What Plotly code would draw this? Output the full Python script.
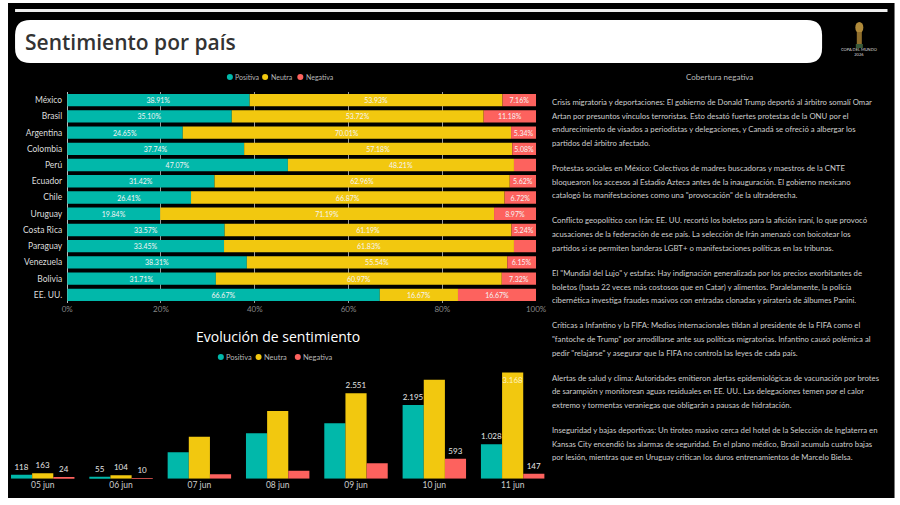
import plotly.graph_objects as go

# ---------------- data ----------------
countries = ["México", "Brasil", "Argentina", "Colombia", "Perú", "Ecuador", "Chile",
             "Uruguay", "Costa Rica", "Paraguay", "Venezuela", "Bolivia", "EE. UU."]
pct_pos = [38.91, 35.10, 24.65, 37.74, 47.07, 31.42, 26.41, 19.84, 33.57, 33.45, 38.31, 31.71, 66.67]
pct_neu = [53.93, 53.72, 70.01, 57.18, 48.21, 62.96, 66.87, 71.19, 61.19, 61.83, 55.54, 60.97, 16.67]
pct_neg = [7.16, 11.18, 5.34, 5.08, 4.72, 5.62, 6.72, 8.97, 5.24, 4.72, 6.15, 7.32, 16.67]
pct_ticks = [0, 20, 40, 60, 80, 100]

dates = ["05 jun", "06 jun", "07 jun", "08 jun", "09 jun", "10 jun", "11 jun"]
cnt_pos = [118, 55, 788, 1356, 1654, 2195, 1028]
cnt_neu = [163, 104, 1254, 2022, 2551, 2948, 3168]
cnt_neg = [24, 10, 131, 239, 460, 593, 147]
# which data labels are displayed in the reference (Power BI hides overlapping ones)
lbl_pos = [1, 1, 0, 0, 0, 1, 1]
lbl_neu = [1, 1, 0, 0, 1, 0, 1]
lbl_neg = [1, 1, 0, 0, 0, 1, 1]

series = ["Positiva", "Neutra", "Negativa"]

paragraphs = [
    ["Crisis migratoria y deportaciones: El gobierno de Donald Trump deportó al árbitro somalí Omar",
     "Artan por presuntos vínculos terroristas. Esto desató fuertes protestas de la ONU por el",
     "endurecimiento de visados a periodistas y delegaciones, y Canadá se ofreció a albergar los",
     "partidos del árbitro afectado."],
    ["Protestas sociales en México: Colectivos de madres buscadoras y maestros de la CNTE",
     "bloquearon los accesos al Estadio Azteca antes de la inauguración. El gobierno mexicano",
     "catalogó las manifestaciones como una \"provocación\" de la ultraderecha."],
    ["Conflicto geopolítico con Irán: EE. UU. recortó los boletos para la afición iraní, lo que provocó",
     "acusaciones de la federación de ese país. La selección de Irán amenazó con boicotear los",
     "partidos si se permiten banderas LGBT+ o manifestaciones políticas en las tribunas."],
    ["El \"Mundial del Lujo\" y estafas: Hay indignación generalizada por los precios exorbitantes de",
     "boletos (hasta 22 veces más costosos que en Catar) y alimentos. Paralelamente, la policía",
     "cibernética investiga fraudes masivos con entradas clonadas y piratería de álbumes Panini."],
    ["Críticas a Infantino y la FIFA: Medios internacionales tildan al presidente de la FIFA como el",
     "\"fantoche de Trump\" por arrodillarse ante sus políticas migratorias. Infantino causó polémica al",
     "pedir \"relajarse\" y asegurar que la FIFA no controla las leyes de cada país."],
    ["Alertas de salud y clima: Autoridades emitieron alertas epidemiológicas de vacunación por brotes",
     "de sarampión y monitorean aguas residuales en EE. UU.. Las delegaciones temen por el calor",
     "extremo y tormentas veraniegas que obligarán a pausas de hidratación."],
    ["Inseguridad y bajas deportivas: Un tiroteo masivo cerca del hotel de la Selección de Inglaterra en",
     "Kansas City encendió las alarmas de seguridad. En el plano médico, Brasil acumula cuatro bajas",
     "por lesión, mientras que en Uruguay critican los duros entrenamientos de Marcelo Bielsa."],
]

C_POS, C_NEU, C_NEG = "#01B8AA", "#F2C80F", "#FD625E"
COLORS = [C_POS, C_NEU, C_NEG]
FONT = "Lato"
W, H = 900, 505
# the captured picture appears squeezed horizontally; place items so they land where intended
SX, OX = 0.975, 7.0


def X(px):
    return ((px - OX) / SX) / W


def XD(px):
    return min(1.0, max(0.0, X(px)))


def Y(py):
    return 1 - py / H


def fmt_cnt(v):
    return f"{v:,}".replace(",", ".")


fig = go.Figure()

# ---------------- stacked 100% bars ----------------
base_neu = [p for p in pct_pos]
base_neg = [p + n for p, n in zip(pct_pos, pct_neu)]
for name, vals, base, col in [("Positiva", pct_pos, [0] * len(pct_pos), C_POS),
                               ("Neutra", pct_neu, base_neu, C_NEU),
                               ("Negativa", pct_neg, base_neg, C_NEG)]:
    fig.add_trace(go.Bar(
        y=countries, x=vals, base=base, orientation="h", name=name,
        marker=dict(color=col, line=dict(width=0)),
        offsetgroup="s", width=0.76,
        text=[f"{v:.2f}%" if v >= 5 else "" for v in vals],
        textposition="inside", insidetextanchor="middle", textangle=0,
        constraintext="none",
        textfont=dict(family=FONT, size=7, color="#f4f4f4"),
        showlegend=False, xaxis="x", yaxis="y", hoverinfo="skip"))

# ---------------- grouped bars ----------------
for name, vals, show, col in [("Positiva", cnt_pos, lbl_pos, C_POS),
                               ("Neutra", cnt_neu, lbl_neu, C_NEU),
                               ("Negativa", cnt_neg, lbl_neg, C_NEG)]:
    tpos = ["outside"] * len(vals)
    if name == "Neutra":
        tpos[-1] = "inside"
    fig.add_trace(go.Bar(
        x=dates, y=vals, name=name, marker=dict(color=col, line=dict(width=0)),
        text=[fmt_cnt(v) if s else "" for v, s in zip(vals, show)],
        textposition=tpos, insidetextanchor="end", textangle=0, constraintext="none",
        insidetextfont=dict(family=FONT, size=8, color="#fff3c0"),
        outsidetextfont=dict(family=FONT, size=8, color="#e6e6e6"),
        cliponaxis=False, showlegend=False, xaxis="x2", yaxis="y2", hoverinfo="skip"))

# ---------------- shapes ----------------
shapes = [
    dict(type="rect", xref="paper", yref="paper", x0=X(9), x1=X(890), y0=Y(498), y1=Y(3),
         fillcolor="#000000", line=dict(width=0), layer="below"),
    dict(type="rect", xref="paper", yref="paper", x0=X(16), x1=X(883), y0=Y(12), y1=Y(9),
         fillcolor="#eeeeee", line=dict(width=0), layer="below"),
]
bx0, bx1, by0, by1, r = 16, 818, 20, 63, 15
path = (f"M {X(bx0 + r)},{Y(by0)} L {X(bx1 - r)},{Y(by0)} "
        f"Q {X(bx1)},{Y(by0)} {X(bx1)},{Y(by0 + r)} L {X(bx1)},{Y(by1 - r)} "
        f"Q {X(bx1)},{Y(by1)} {X(bx1 - r)},{Y(by1)} L {X(bx0 + r)},{Y(by1)} "
        f"Q {X(bx0)},{Y(by1)} {X(bx0)},{Y(by1 - r)} L {X(bx0)},{Y(by0 + r)} "
        f"Q {X(bx0)},{Y(by0)} {X(bx0 + r)},{Y(by0)} Z")
shapes.append(dict(type="path", xref="paper", yref="paper", path=path,
                   fillcolor="#ffffff", line=dict(width=0), layer="below"))
# small trophy glyph
shapes.append(dict(type="circle", xref="paper", yref="paper", x0=X(851), x1=X(859), y0=Y(33), y1=Y(22),
                   fillcolor="#b08a3a", line=dict(width=0)))
shapes.append(dict(type="rect", xref="paper", yref="paper", x0=X(852.5), x1=X(857.5), y0=Y(44), y1=Y(32),
                   fillcolor="#8f6e2c", line=dict(width=0)))
shapes.append(dict(type="rect", xref="paper", yref="paper", x0=X(851.5), x1=X(858.5), y0=Y(48), y1=Y(44),
                   fillcolor="#3a5a3a", line=dict(width=0)))

ann = []


def add_legend(cx_list, cy, size):
    for name, col, cx in zip(series, COLORS, cx_list):
        shapes.append(dict(type="circle", xref="paper", yref="paper",
                           x0=X(cx - 3), x1=X(cx + 3), y0=Y(cy + 3), y1=Y(cy - 3),
                           fillcolor=col, line=dict(width=0)))
        ann.append(dict(text=name, x=X(cx + 3.5), y=Y(cy), xref="paper", yref="paper",
                        xanchor="left", yanchor="middle", showarrow=False,
                        font=dict(family=FONT, size=size, color="#b8b8b8")))


add_legend([229.5, 264.5, 299.5], 77, 7)
add_legend([220.5, 258, 297], 357, 7.5)

# ---------------- annotations ----------------
ann += [
    dict(text="Sentimiento por país", x=X(24), y=Y(42), xref="paper", yref="paper",
         xanchor="left", yanchor="middle", showarrow=False,
         font=dict(family="Open Sans", size=21, color="#333333", weight=600)),
    dict(text="COPA DEL MUNDO<br>2026", x=X(855), y=Y(52), xref="paper", yref="paper",
         xanchor="center", yanchor="middle", showarrow=False,
         font=dict(family=FONT, size=4, color="#dddddd")),
    dict(text="Evolución de sentimiento", x=X(277), y=Y(336), xref="paper", yref="paper",
         xanchor="center", yanchor="middle", showarrow=False,
         font=dict(family="Open Sans", size=14, color="#ffffff")),
    dict(text="Cobertura negativa", x=X(716), y=Y(77), xref="paper", yref="paper",
         xanchor="center", yanchor="middle", showarrow=False,
         font=dict(family=FONT, size=8, color="#bbbbbb")),
]
yy = 102.0
for para in paragraphs:
    for line in para:
        ann.append(dict(text=line, x=X(548), y=Y(yy), xref="paper", yref="paper",
                        xanchor="left", yanchor="middle", showarrow=False,
                        font=dict(family=FONT, size=7.75, color="#cfcfcf")))
        yy += 13.7
    yy += 25 - 13.7

# bottom chart: first / last category centres and the pixel extent of its domain
c_first, c_last, d_left, d_right = 43.5, 510.5, 7.0, 549.4
step = (c_last - c_first) / (len(dates) - 1)
x2_range = [-(c_first - d_left) / step, (len(dates) - 1) + (d_right - c_last) / step]

fig.update_layout(
    width=W, height=H, autosize=False,
    margin=dict(l=0, r=0, t=0, b=0),
    paper_bgcolor="#ffffff", plot_bgcolor="rgba(0,0,0,0)",
    barmode="group", bargap=0.19, bargroupgap=0, showlegend=False,
    shapes=shapes, annotations=ann,
    xaxis=dict(domain=[XD(67.8), XD(533.8)], range=[0, 100], tickmode="array",
               tickvals=pct_ticks, ticktext=[f"{t}%" for t in pct_ticks],
               showgrid=True, gridcolor="#9a9a9a", gridwidth=1,
               zeroline=True, zerolinecolor="#bbbbbb", zerolinewidth=1,
               tickfont=dict(family=FONT, size=8, color="#888888"), fixedrange=True),
    yaxis=dict(domain=[Y(303), Y(92)], autorange="reversed", type="category",
               showgrid=False, ticks="", ticklabelstandoff=4,
               tickfont=dict(family=FONT, size=8.5, color="#dddddd")),
    xaxis2=dict(domain=[XD(d_left), XD(d_right)], anchor="y2", type="category",
                range=x2_range, showgrid=False,
                ticks="", tickfont=dict(family=FONT, size=8.5, color="#cccccc"),
                showline=False, zeroline=False),
    yaxis2=dict(domain=[Y(478.7), Y(358)], anchor="x2", range=[0, 3600], visible=False),
)

fig.write_html("out.html", config={"responsive": False, "displayModeBar": False})
